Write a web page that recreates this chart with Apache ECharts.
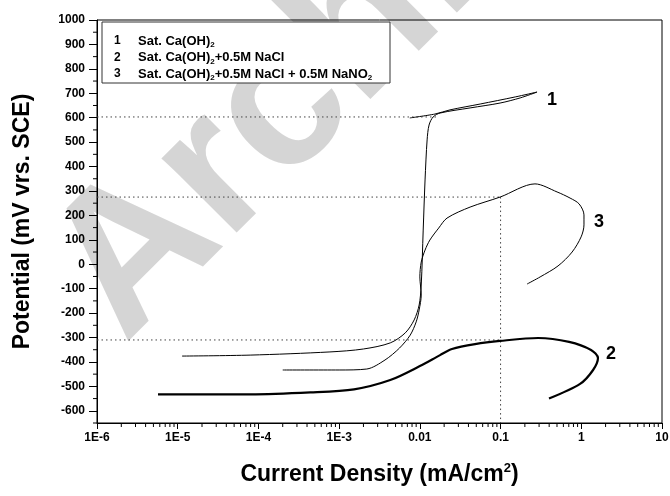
<!DOCTYPE html>
<html lang="en">
<head>
<meta charset="UTF-8">
<title>Polarization curves</title>
<script src="https://cdn.jsdelivr.net/npm/echarts@6/dist/echarts.min.js"></script>
<style>
html,body{margin:0;padding:0;background:#fff;}
#main{width:670px;height:496px;}
</style>
</head>
<body>
<div id="main"></div>
<script>
// curve 1 : Sat. Ca(OH)2  (current mA/cm2, potential mV)
var c1Current = [1.13e-5, 7.9e-5, 7.7e-4, 2.0e-3, 4.3e-3, 6.6e-3, 8.5e-3, 9.8e-3, 0.0104, 0.011, 0.0116, 0.0123, 0.013, 0.0146, 0.0178, 0.0419, 0.0986, 0.175, 0.283, 0.152, 0.0559, 0.0236, 0.0154, 0.0075];
var c1Potential = [-376, -372, -359, -347, -322, -281, -228, -167, -85, 140, 345, 509, 570, 603, 619, 640, 660, 681, 705, 685, 656, 632, 615, 599];

// curve 2 : + 0.5M NaCl
var c2Current = [5.7e-6, 7.9e-5, 4.4e-4, 1.53e-3, 4.3e-3, 0.01, 0.0178, 0.025, 0.0483, 0.0986, 0.292, 0.706, 1.32, 1.61, 1.40, 0.966, 0.398];
var c2Potential = [-533, -533, -525, -512, -474, -417, -372, -347, -327, -314, -302, -318, -351, -384, -433, -490, -550];

// curve 3 : + 0.5M NaCl + 0.5M NaNO2
var c3Current = [2.0e-4, 1.0e-3, 2.2e-3, 3.7e-3, 5.6e-3, 7.6e-3, 9.0e-3, 9.8e-3, 0.0104, 0.0100, 0.0104, 0.0116, 0.0133, 0.0171, 0.0217, 0.0419, 0.0986, 0.267, 0.501, 0.726, 0.94, 1.08, 1.08, 0.995, 0.77, 0.515, 0.309, 0.213];
var c3Potential = [-433, -433, -429, -392, -343, -290, -236, -187, -126, -52, 9, 58, 99, 148, 189, 234, 275, 329, 296, 271, 247, 202, 161, 112, 50, -7, -52, -81];

// dotted guide lines
var guide1 = [[1e-6, 603], [0.0168, 603]];
var guide2 = [[1e-6, 275], [0.1, 275]];
var guide3 = [[0.1, 275], [0.1, -650]];
var guide4 = [[1e-6, -310], [0.1, -310]];

var xTickText = ['1E-6', '1E-5', '1E-4', '1E-3', '0.01', '0.1', '1', '10'];
var yLabelValues = [-600, -500, -400, -300, -200, -100, 0, 100, 200, 300, 400, 500, 600, 700, 800, 900, 1000];
var legendNames = [
    '{t|Sat. Ca(OH)}{s|2}',
    '{t|Sat. Ca(OH)}{s|2}{t|+0.5M NaCl}',
    '{t|Sat. Ca(OH)}{s|2}{t|+0.5M NaCl + 0.5M NaNO}{s|2}'
];

var FONT = '"Liberation Sans", Arial, sans-serif';

function pairs(xs, ys) {
    var res = [];
    for (var i = 0; i < xs.length; i++) res.push([xs[i], ys[i]]);
    return res;
}

// minor ticks (log decades 2..9 on x, every 50 mV on y)
var xMinor = [];
for (var d = -6; d < 1; d++) {
    for (var k = 2; k <= 9; k++) xMinor.push([k * Math.pow(10, d), -650, 0]);
}
var yMinor = [];
for (var v = -650; v < 1000; v += 100) yMinor.push([1e-6, v, 1]);

var chart = echarts.init(document.getElementById('main'));

function curve(data, w) {
    return {
        type: 'line', data: data, symbol: 'none', smooth: 0.3,
        lineStyle: {color: '#000', width: w}, silent: true, z: 3
    };
}
function guide(data) {
    return {
        type: 'line', data: data, symbol: 'none',
        lineStyle: {color: '#444', width: 1, type: [1.5, 3]}, silent: true, z: 2
    };
}

var legendGraphics = [{
    type: 'rect', z: 10,
    shape: {x: 102, y: 22, width: 288, height: 61},
    style: {fill: '#fff', stroke: '#333', lineWidth: 1}
}];
for (var n = 0; n < legendNames.length; n++) {
    var yy = 41 + n * 16.5;
    legendGraphics.push({
        type: 'text', z: 11, x: 114, y: yy,
        style: {text: String(n + 1), font: 'bold 12px ' + FONT, fill: '#000', verticalAlign: 'middle'}
    });
    legendGraphics.push({
        type: 'text', z: 11, x: 138, y: yy,
        style: {
            text: legendNames[n], verticalAlign: 'middle', fill: '#000',
            rich: {
                t: {fontSize: 13, fontWeight: 'bold', fontFamily: FONT, fill: '#000'},
                s: {fontSize: 8, fontWeight: 'bold', fontFamily: FONT, fill: '#000', padding: [8, 0, 0, 0]}
            }
        }
    });
}

var option = {
    animation: false,
    grid: {left: 97, right: 8, top: 20, bottom: 73, show: true, borderColor: '#000', borderWidth: 1, outerBoundsMode: 'none'},
    xAxis: {
        type: 'log', logBase: 10, min: 1e-6, max: 10,
        axisLine: {onZero: false, lineStyle: {color: '#000', width: 1}},
        axisTick: {length: 6, lineStyle: {color: '#000'}},
        splitLine: {show: false},
        axisLabel: {
            color: '#000', fontSize: 12, fontWeight: 'bold', fontFamily: FONT, margin: 9,
            formatter: function (v) { return xTickText[Math.round(Math.log10(v)) + 6]; }
        },
        name: '{a|Current Density (mA/cm}{p|2}{a|)}',
        nameLocation: 'middle', nameGap: 39,
        nameTextStyle: {
            rich: {
                a: {fontSize: 23, fontWeight: 'bold', fontFamily: FONT, color: '#000'},
                p: {fontSize: 13, fontWeight: 'bold', fontFamily: FONT, color: '#000', padding: [0, 0, 12, 0]}
            }
        }
    },
    yAxis: {
        type: 'value', min: -650, max: 1000,
        axisLine: {onZero: false, lineStyle: {color: '#000', width: 1}},
        axisTick: {length: 8, customValues: yLabelValues, lineStyle: {color: '#000'}},
        splitLine: {show: false},
        axisLabel: {
            customValues: yLabelValues, color: '#000', fontSize: 12, fontWeight: 'bold', fontFamily: FONT, margin: 12,
            formatter: function (v) { return String(v); }
        },
        name: 'Potential (mV vrs. SCE)',
        nameLocation: 'middle', nameGap: 63, nameRotate: 90,
        nameTextStyle: {fontSize: 23, fontWeight: 'bold', fontFamily: FONT, color: '#000'}
    },
    graphic: [{
        type: 'text', z: -10, x: 15, y: 235, rotation: Math.PI / 4,
        style: {text: 'Archive of SID', font: 'bold 200px ' + FONT, fill: 'rgba(185,185,185,0.6)'}
    }].concat(legendGraphics).concat([
        {type: 'text', x: 552, y: 100, style: {text: '1', font: 'bold 18px ' + FONT, fill: '#000', align: 'center', verticalAlign: 'middle'}},
        {type: 'text', x: 599, y: 222, style: {text: '3', font: 'bold 18px ' + FONT, fill: '#000', align: 'center', verticalAlign: 'middle'}},
        {type: 'text', x: 611, y: 354, style: {text: '2', font: 'bold 18px ' + FONT, fill: '#000', align: 'center', verticalAlign: 'middle'}}
    ]),
    series: [
        guide(guide1), guide(guide2), guide(guide3), guide(guide4),
        curve(pairs(c1Current, c1Potential), 1),
        curve(pairs(c3Current, c3Potential), 1),
        curve(pairs(c2Current, c2Potential), 2.2),
        {
            type: 'custom', clip: false, silent: true, z: 4,
            data: xMinor.concat(yMinor),
            renderItem: function (params, api) {
                var p = api.coord([api.value(0), api.value(1)]);
                var horiz = api.value(2) === 1;
                return {
                    type: 'line',
                    shape: horiz ? {x1: p[0] - 4, y1: p[1], x2: p[0], y2: p[1]} : {x1: p[0], y1: p[1], x2: p[0], y2: p[1] + 4},
                    style: {stroke: '#000', lineWidth: 1}
                };
            }
        }
    ]
};
chart.setOption(option);
</script>
</body>
</html>
